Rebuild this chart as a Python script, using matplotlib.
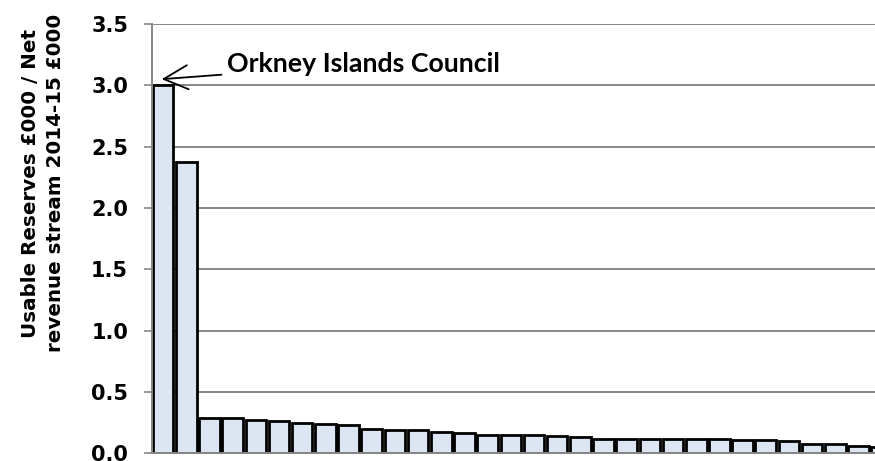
import matplotlib
matplotlib.use("Agg")
import matplotlib.pyplot as plt

# Councils ranked by ratio (rank 1 = Orkney Islands Council)
ranks = list(range(1, 33))
ratios = [3.00, 2.378, 0.29, 0.285, 0.275, 0.26, 0.247, 0.235, 0.232, 0.197,
          0.192, 0.186, 0.177, 0.166, 0.152, 0.153, 0.15, 0.142, 0.132, 0.119,
          0.114, 0.114, 0.114, 0.114, 0.115, 0.11, 0.11, 0.104, 0.078, 0.078,
          0.062, 0.055]
yticks = [0.0, 0.5, 1.0, 1.5, 2.0, 2.5, 3.0, 3.5]
ytick_labels = ["0.0", "0.5", "1.0", "1.5", "2.0", "2.5", "3.0", "3.5"]
ylabel = "Usable Reserves £000 / Net\nrevenue stream 2014-15 £000"
annot_text = "Orkney Islands Council"

W, H = 875, 461
fig = plt.figure(figsize=(W / 100, H / 100), dpi=100)
left_px = 151.5
bottom_px, top_px = 453.3, 24
ax = fig.add_axes([left_px / W, (H - bottom_px) / H,
                   1.0 - left_px / W, (bottom_px - top_px) / H])

pos = [r - 1 for r in ranks]
ax.bar(pos, ratios, width=0.89, color="#DCE6F2", edgecolor="black",
       linewidth=2.0, zorder=3)

ax.set_xlim(-0.5, 30.71)
ax.set_ylim(0, 3.5)
ax.set_yticks(yticks)
ax.set_yticklabels(ytick_labels, fontfamily="DejaVu Sans",
                   fontweight="bold", fontsize=15)
ax.set_xticks([])
ax.grid(axis="y", color="#868686", linewidth=1.4, zorder=0)
ax.tick_params(axis="y", direction="out", length=5.8, width=1.2,
               color="#868686", pad=11)
for s in ("top", "right"):
    ax.spines[s].set_visible(False)
for s in ("left", "bottom"):
    ax.spines[s].set_color("#868686")
    ax.spines[s].set_linewidth(1.4)
    ax.spines[s].set_zorder(4)

fig.text(43 / W, 1 - 183 / H, ylabel, rotation=90, ha="center", va="center",
         fontfamily="DejaVu Sans", fontweight="bold", fontsize=14.3,
         linespacing=1.45, multialignment="center")

ax.annotate(annot_text, xy=(-0.06, 3.05),
            xytext=(2.76, 3.174), textcoords="data",
            fontfamily="Lato", fontweight="bold", fontsize=19.3,
            ha="left", va="center",
            arrowprops=dict(arrowstyle="->,head_length=0.9,head_width=0.45",
                            color="black", lw=1.3, shrinkA=2, shrinkB=0),
            zorder=5)

fig.savefig("out.png", dpi=100)
